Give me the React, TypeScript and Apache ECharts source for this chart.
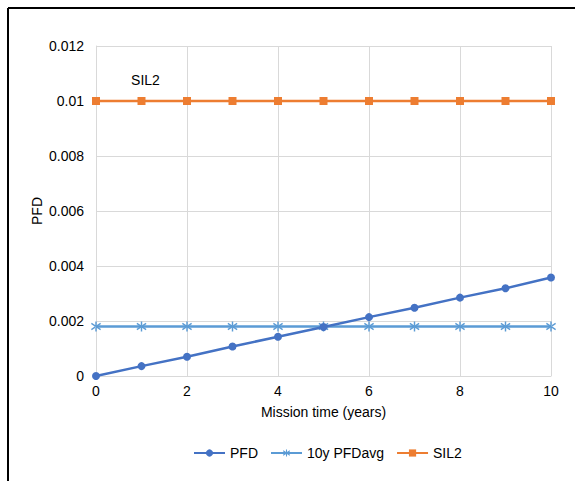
import React, { useEffect, useRef } from "react";
import * as echarts from "echarts";

const years = [0, 1, 2, 3, 4, 5, 6, 7, 8, 9, 10];
const pfd = [0, 0.00036, 0.0007, 0.00107, 0.00143, 0.00178, 0.00214, 0.00248, 0.00285, 0.00319, 0.00358];
const pfdAvg = [0.0018, 0.0018, 0.0018, 0.0018, 0.0018, 0.0018, 0.0018, 0.0018, 0.0018, 0.0018, 0.0018];
const sil2 = [0.01, 0.01, 0.01, 0.01, 0.01, 0.01, 0.01, 0.01, 0.01, 0.01, 0.01];
const seriesNames = ["PFD", "10y PFDavg", "SIL2"];
const xTitle = "Mission time (years)";
const yTitle = "PFD";
const sil2Label = "SIL2";

const asterisk =
  "path://M4.3,0 L5.7,0 L5.7,10 L4.3,10 Z M0.2,2.4 L0.9,1.2 L9.8,7.6 L9.1,8.8 Z M0.2,7.6 L0.9,8.8 L9.8,2.4 L9.1,1.2 Z";

export default function App() {
  const ref = useRef<HTMLDivElement>(null);
  useEffect(() => {
    if (!ref.current) return;
    const chart = echarts.init(ref.current, null, { renderer: "svg" });
    const font = "Liberation Sans, Arial, sans-serif";
    const fs = 14;
    const zip = (ys: number[]) => years.map((x, i) => [x, ys[i]]);
    chart.setOption({
      animation: false,
      backgroundColor: "#ffffff",
      textStyle: { fontFamily: font },
      grid: { left: 96, right: 24, top: 46, bottom: 105, containLabel: false },
      xAxis: {
        type: "value",
        min: 0,
        max: 10,
        interval: 2,
        name: xTitle,
        nameLocation: "middle",
        nameGap: 29,
        nameTextStyle: { fontSize: fs, color: "#000", fontFamily: font },
        axisLine: { show: true, lineStyle: { color: "#d9d9d9", width: 1 } },
        axisTick: { show: false },
        axisLabel: { fontSize: fs, color: "#000", margin: 8, fontFamily: font },
        splitLine: { show: true, lineStyle: { color: "#d9d9d9", width: 1 } },
      },
      yAxis: {
        type: "value",
        min: 0,
        max: 0.012,
        interval: 0.002,
        name: yTitle,
        nameLocation: "middle",
        nameGap: 52,
        nameMoveOverlap: false,
        nameRotate: 90,
        nameTextStyle: { fontSize: fs, color: "#000", fontFamily: font },
        axisLine: { show: true, lineStyle: { color: "#d9d9d9", width: 1 } },
        axisTick: { show: false },
        axisLabel: {
          fontSize: fs,
          color: "#000",
          margin: 12,
          fontFamily: font,
          formatter: (v: number) => String(parseFloat(v.toFixed(4))),
        },
        splitLine: { show: true, lineStyle: { color: "#d9d9d9", width: 1 } },
      },
      legend: {
        bottom: 16,
        left: 188,
        itemWidth: 31,
        itemHeight: 9,
        itemGap: 12,
        textStyle: { fontSize: fs, color: "#000", fontFamily: font },
        data: seriesNames,
      },
      graphic: [
        { type: "line", shape: { x1: 8, y1: 8, x2: 575, y2: 8 }, style: { stroke: "#000", lineWidth: 2 } },
        { type: "line", shape: { x1: 8, y1: 8, x2: 8, y2: 481 }, style: { stroke: "#000", lineWidth: 2 } },
      ],
      series: [
        {
          name: seriesNames[0],
          type: "line",
          data: zip(pfd),
          symbol: "circle",
          symbolSize: 8,
          color: "#4472C4",
          lineStyle: { width: 2.5, color: "#4472C4" },
          itemStyle: { color: "#4472C4" },
          z: 4,
        },
        {
          name: seriesNames[1],
          type: "line",
          data: zip(pfdAvg),
          symbol: asterisk,
          symbolSize: 10,
          color: "#5B9BD5",
          lineStyle: { width: 2.5, color: "#5B9BD5" },
          itemStyle: { color: "#5B9BD5" },
          z: 3,
        },
        {
          name: seriesNames[2],
          type: "line",
          data: zip(sil2),
          symbol: "rect",
          symbolSize: 8,
          color: "#ED7D31",
          lineStyle: { width: 2.5, color: "#ED7D31" },
          itemStyle: { color: "#ED7D31" },
          label: {
            show: true,
            position: "top",
            distance: 10,
            fontSize: fs,
            color: "#000",
            fontFamily: font,
            offset: [4, 0],
            formatter: (p: any) => (p.dataIndex === 1 ? sil2Label : ""),
          },
          z: 2,
        },
      ],
    });
    return () => chart.dispose();
  }, []);
  return (
    <div
      ref={ref}
      style={{ position: "fixed", left: 0, top: 0, width: 575, height: 481 }}
    />
  );
}
